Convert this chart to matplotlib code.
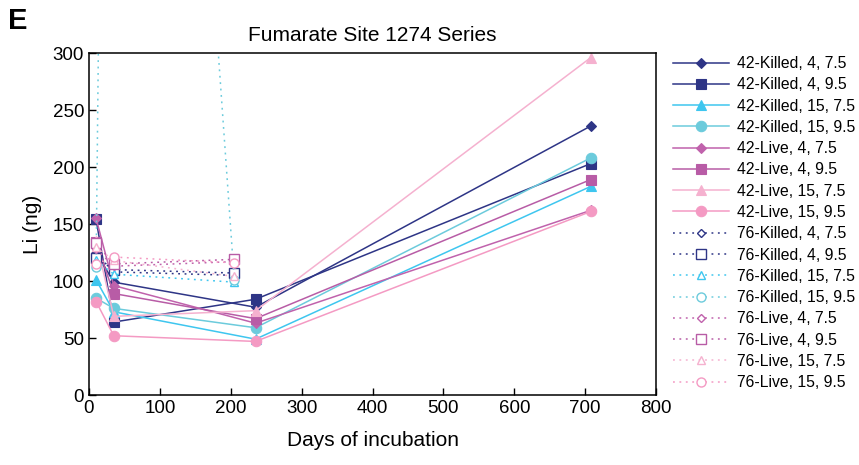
import matplotlib
matplotlib.use('Agg')
import matplotlib.pyplot as plt

plt.rcParams['font.family'] = ['Liberation Sans', 'DejaVu Sans']

# days the samples were taken
days_42 = [10, 35, 235, 708]
days_76 = [10, 35, 205]

# 42 series (solid lines, filled markers)
k42_4_75 = [125, 99, 77, 236]
k42_4_95 = [154, 64, 84, 203]
k42_15_75 = [101, 73, 49, 183]
k42_15_95 = [85, 76, 59, 208]
l42_4_75 = [155, 96, 63, 162]
l42_4_95 = [134, 89, 67, 189]
l42_15_75 = [135, 69, 74, 296]
l42_15_95 = [82, 52, 47, 161]

# 76 series (dotted lines, open markers) - one point is far off the top
k76_4_75 = [124, 108, 105]
k76_4_95 = [120, 110, 107]
k76_15_75 = [118, 106, 99]
k76_15_95 = [112, 1600, 101]
l76_4_75 = [128, 113, 117]
l76_4_95 = [133, 115, 119]
l76_15_75 = [130, 118, 104]
l76_15_95 = [115, 121, 116]

labels = ["42-Killed, 4, 7.5", "42-Killed, 4, 9.5", "42-Killed, 15, 7.5", "42-Killed, 15, 9.5",
          "42-Live, 4, 7.5", "42-Live, 4, 9.5", "42-Live, 15, 7.5", "42-Live, 15, 9.5",
          "76-Killed, 4, 7.5", "76-Killed, 4, 9.5", "76-Killed, 15, 7.5", "76-Killed, 15, 9.5",
          "76-Live, 4, 7.5", "76-Live, 4, 9.5", "76-Live, 15, 7.5", "76-Live, 15, 9.5"]

navy = "#2e3586"
cyan = "#3ec6ef"
cyan2 = "#6ccbdc"
magenta = "#c062ac"
magenta2 = "#b85ca6"
pink = "#f5b1cf"
pink2 = "#f49ac3"

colors = [navy, navy, cyan, cyan2, magenta, magenta2, pink, pink2]
markers = ["D", "s", "^", "o", "D", "s", "^", "o"]
sizes = [5.5, 7.5, 7, 7.5, 5.5, 7.5, 7, 7.5]

series_42 = [k42_4_75, k42_4_95, k42_15_75, k42_15_95, l42_4_75, l42_4_95, l42_15_75, l42_15_95]
series_76 = [k76_4_75, k76_4_95, k76_15_75, k76_15_95, l76_4_75, l76_4_95, l76_15_75, l76_15_95]

fig = plt.figure(figsize=(8.59, 4.65), dpi=100)
ax = fig.add_axes([0.1036, 0.1505, 0.6601, 0.7355])

handles = []
for i in range(8):
    h, = ax.plot(days_42, series_42[i], color=colors[i], marker=markers[i], markersize=sizes[i],
                 linewidth=1.1, markeredgewidth=0.8, label=labels[i])
    handles.append(h)
for i in range(8):
    h, = ax.plot(days_76, series_76[i], color=colors[i], marker=markers[i], markersize=sizes[i] - 1,
                 linewidth=1.1, linestyle=(0, (1.2, 3)), markerfacecolor='white',
                 markeredgewidth=1.0, label=labels[8 + i])
    handles.append(h)

ax.set_xlim(0, 800)
ax.set_ylim(0, 300)
ax.set_xticks(range(0, 801, 100))
ax.set_yticks(range(0, 301, 50))
ax.tick_params(direction='in', length=5, labelsize=13.5, width=1)
for s in ax.spines.values():
    s.set_linewidth(1.1)

ax.set_title("Fumarate Site 1274 Series", fontsize=15, pad=9)
ax.set_xlabel("Days of incubation", fontsize=15, labelpad=10)
ax.set_ylabel("Li (ng)", fontsize=15, labelpad=8)

fig.text(0.009, 0.985, "E", fontsize=21, fontweight='bold', va='top', ha='left')

fig.legend(handles=handles, loc='upper left', bbox_to_anchor=(0.776, 0.893), frameon=False,
           fontsize=11.3, handlelength=3.6, handletextpad=0.5, labelspacing=0.4, borderaxespad=0)

plt.savefig('out.png', dpi=100)
